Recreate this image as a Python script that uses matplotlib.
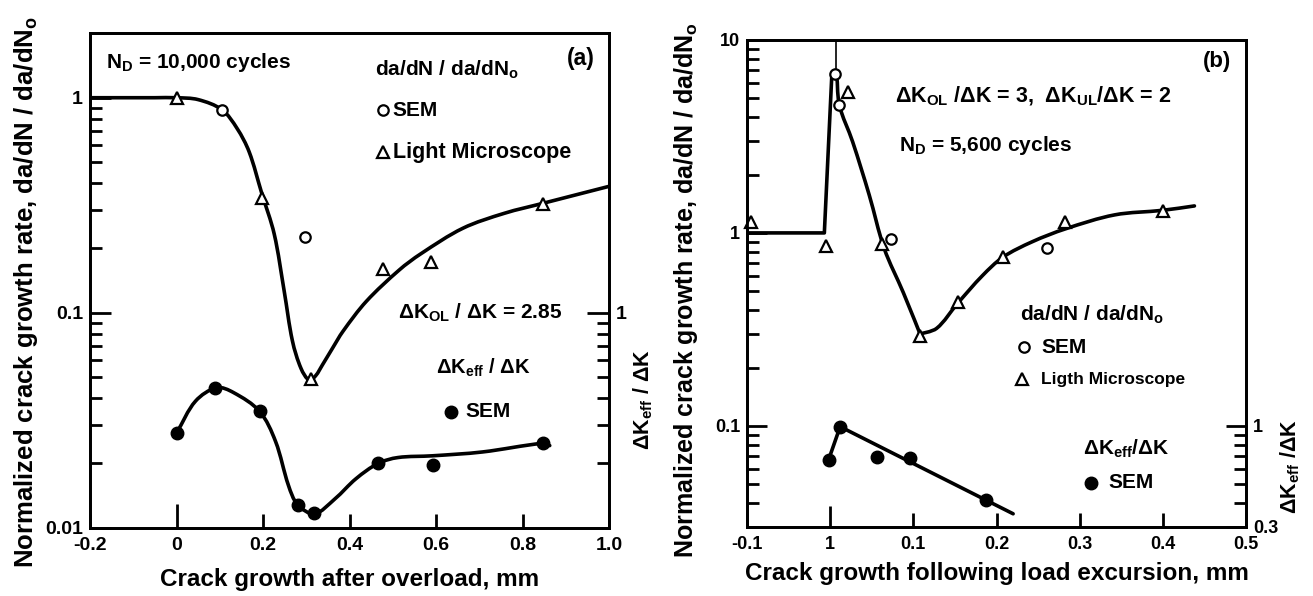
import numpy as np
import matplotlib
matplotlib.use("Agg")
import matplotlib.pyplot as plt
from matplotlib.ticker import FixedLocator, FixedFormatter, NullFormatter
from matplotlib.path import Path
from matplotlib.patches import PathPatch

plt.rcParams['font.family'] = ['Liberation Sans', 'DejaVu Sans']
plt.rcParams['font.weight'] = 'bold'
plt.rcParams['axes.labelweight'] = 'bold'
plt.rcParams['mathtext.fontset'] = 'custom'
plt.rcParams['mathtext.rm'] = 'Liberation Sans:bold'
plt.rcParams['mathtext.it'] = 'Liberation Sans:bold'
plt.rcParams['mathtext.bf'] = 'Liberation Sans:bold'
plt.rcParams['mathtext.default'] = 'rm'

# ---------------- panel (a): single overload, N_D = 10,000 cycles ----------------
a_lm_x = [0.0, 0.197, 0.31, 0.478, 0.589, 0.848]
a_lm_y = [1.0, 0.34, 0.049, 0.16, 0.172, 0.32]
a_sem_x = [0.105, 0.297]
a_sem_y = [0.88, 0.225]
a_fit_x = [-0.2, -0.05, 0.0, 0.05, 0.105, 0.14, 0.168, 0.197, 0.226, 0.249,
           0.268, 0.288, 0.307, 0.322, 0.337, 0.36, 0.385, 0.439,
           0.515, 0.565, 0.662, 0.758, 0.848, 1.0]
a_fit_y = [1.0, 1.0, 1.0, 0.98, 0.88, 0.72, 0.56, 0.36, 0.232, 0.126,
           0.074, 0.055, 0.0485, 0.051, 0.057, 0.068, 0.082, 0.113,
           0.158, 0.188, 0.247, 0.29, 0.323, 0.387]
a_keff_x = [0.0, 0.09, 0.192, 0.28, 0.319, 0.466, 0.592, 0.847]
a_keff_y = [0.275, 0.448, 0.348, 0.128, 0.117, 0.199, 0.195, 0.247]
a_keff_fit_x = [0.0, 0.044, 0.093, 0.132, 0.192, 0.229, 0.259, 0.28, 0.319,
                0.366, 0.415, 0.466, 0.512, 0.592, 0.707, 0.847, 0.863]
a_keff_fit_y = [0.275, 0.388, 0.448, 0.425, 0.348, 0.252, 0.157, 0.128, 0.116,
                0.136, 0.169, 0.199, 0.212, 0.216, 0.225, 0.247, 0.241]
a_xticks = [-0.2, 0.0, 0.2, 0.4, 0.6, 0.8, 1.0]
a_xticklabels = ['-0.2', '0', '0.2', '0.4', '0.6', '0.8', '1.0']

# ---------------- panel (b): overload + underload, N_D = 5,600 cycles ----------------
b_lm_x = [-0.095, -0.005, 0.022, 0.062, 0.108, 0.154, 0.208, 0.282, 0.400]
b_lm_y = [1.14, 0.86, 5.4, 0.88, 0.293, 0.437, 0.75, 1.14, 1.30]
b_sem_x = [0.006, 0.011, 0.073, 0.261]
b_sem_y = [6.7, 4.6, 0.93, 0.84]
b_fit_x = [-0.1, -0.007, 0.002, 0.007, 0.011, 0.027, 0.047,
           0.065, 0.088, 0.108, 0.128, 0.153, 0.183, 0.208, 0.243, 0.283,
           0.342, 0.40, 0.438]
b_fit_y = [1.0, 1.0, 6.6, 6.9, 4.6, 2.97, 1.57,
           0.83, 0.49, 0.30, 0.32, 0.43, 0.60, 0.75, 0.90, 1.05,
           1.24, 1.31, 1.38]
b_fit_corners = (1, 2, 9)
b_spike_x = [0.0075, 0.0075]
b_spike_y = [6.9, 10.0]
b_keff_x = [-0.002, 0.012, 0.056, 0.096, 0.187]
b_keff_y = [0.665, 0.99, 0.69, 0.684, 0.412]
b_keff_fit_x = [-0.002, 0.012, 0.22]
b_keff_fit_y = [0.665, 0.99, 0.35]
b_xticks = [-0.1, 0.0, 0.1, 0.2, 0.3, 0.4, 0.5]
b_xticklabels = ['-0.1', '1', '0.1', '0.2', '0.3', '0.4', '0.5']

W, H = 1313, 596
fig = plt.figure(figsize=(W / 100, H / 100), dpi=100)


def box(l, r, t, b):
    return [l / W, 1 - b / H, (r - l) / W, (b - t) / H]


LW = 2.6
SPW = 2.0
open_kw = dict(ls='none', mfc='white', mec='black', mew=1.6, zorder=5, clip_on=False)
fill_kw = dict(ls='none', mfc='black', mec='black', zorder=5, clip_on=False)


def smooth_curve(ax, xs, ys, corners=(), lw=LW):
    """Draw a smooth cubic curve through the given knots on a log-y axes."""
    x0, x1 = ax.get_xlim()
    l0, l1 = np.log10(ax.get_ylim())
    u = (np.asarray(xs, float) - x0) / (x1 - x0)
    w = (np.log10(np.asarray(ys, float)) - l0) / (l1 - l0)
    P = np.column_stack([u, w])
    n = len(P)
    d = np.linalg.norm(np.diff(P, axis=0), axis=1)
    T = np.zeros_like(P)
    for i in range(n):
        if i in corners:
            continue
        if i == 0:
            T[i] = (P[1] - P[0]) / d[0]
        elif i == n - 1:
            T[i] = (P[-1] - P[-2]) / d[-1]
        else:
            T[i] = (P[i + 1] - P[i - 1]) / (d[i - 1] + d[i])
    verts = [P[0]]
    codes = [Path.MOVETO]
    for i in range(n - 1):
        verts += [P[i] + T[i] * d[i] / 3, P[i + 1] - T[i + 1] * d[i] / 3, P[i + 1]]
        codes += [Path.CURVE4] * 3
    V = np.array(verts)
    V[:, 0] = x0 + V[:, 0] * (x1 - x0)
    V[:, 1] = 10 ** (l0 + V[:, 1] * (l1 - l0))
    patch = PathPatch(Path(V, codes), fill=False, lw=lw, ec='black',
                      joinstyle='round', capstyle='round', zorder=3)
    ax.add_patch(patch)


def style_axes(ax, tsize, maj, mn, zero_len):
    for s in ax.spines.values():
        s.set_linewidth(SPW)
    ax.tick_params(which='both', direction='in', width=SPW, labelsize=tsize,
                   top=False, right=False)
    ax.tick_params(axis='y', which='major', length=maj, pad=5)
    ax.tick_params(axis='y', which='minor', length=mn)
    ax.tick_params(axis='x', which='major', length=mn + 1.5, pad=7)
    ax.tick_params(axis='x', which='minor', length=0)
    for t, loc in zip(ax.xaxis.get_major_ticks(), ax.get_xticks()):
        if abs(loc) < 1e-9:
            t.tick1line.set_markersize(zero_len)


def style_twin(ax, tsize, maj, mn, labels, minors):
    for s in ax.spines.values():
        s.set_linewidth(SPW)
    ax.set_yscale('log')
    ax.yaxis.set_major_locator(FixedLocator(labels))
    ax.yaxis.set_major_formatter(FixedFormatter([('%g' % v) for v in labels]))
    ax.yaxis.set_minor_locator(FixedLocator(minors))
    ax.yaxis.set_minor_formatter(NullFormatter())
    ax.tick_params(which='both', direction='in', width=SPW, labelsize=tsize)
    ax.tick_params(which='major', length=maj, pad=5)
    ax.tick_params(which='minor', length=mn)


YLABEL = 'Normalized crack growth rate, da/dN / da/dN$_{\\mathrm{o}}$'
KEFF = '\u0394K$_{\\mathrm{eff}}$'

# ======================= panel (a) =======================
axA = fig.add_axes(box(90, 609, 33, 527.7))
axA.set_yscale('log')
axA.set_xlim(-0.2, 1.0)
axA.set_ylim(0.01, 2.0)
axA.set_xticks(a_xticks)
axA.set_xticklabels(a_xticklabels)
axA.yaxis.set_major_locator(FixedLocator([0.01, 0.1, 1]))
axA.yaxis.set_major_formatter(FixedFormatter(['0.01', '0.1', '1']))
axA.yaxis.set_minor_locator(FixedLocator([k * 0.01 for k in range(2, 10)] +
                                         [k * 0.1 for k in range(2, 10)]))
axA.yaxis.set_minor_formatter(NullFormatter())
style_axes(axA, 14, 15, 8.5, 17)

smooth_curve(axA, a_fit_x, a_fit_y)
axA.plot(a_lm_x, a_lm_y, marker='^', ms=8.5, **open_kw)
axA.plot(a_sem_x, a_sem_y, marker='o', ms=7.5, **open_kw)

axA2 = axA.twinx()
axA2.set_ylim(0.1, 20)
style_twin(axA2, 14, 15.5, 8.5, [1], [k * 0.1 for k in range(2, 10)])
smooth_curve(axA2, a_keff_fit_x, a_keff_fit_y)
axA2.plot(a_keff_x, a_keff_y, marker='o', ms=9, **fill_kw)

axA.set_xlabel('Crack growth after overload, mm', fontsize=17.5, labelpad=10)
fig.text(26 / W, 1 - 292 / H, YLABEL, rotation=90, ha='center', va='center',
         fontsize=18.5, fontweight='bold')
fig.text(643 / W, 1 - 400 / H, KEFF + ' / \u0394K', rotation=90,
         ha='center', va='center', fontsize=15.5)

ta = axA.transAxes
axA.text(0.031, 0.941, 'N$_{\\mathrm{D}}$ = 10,000 cycles', transform=ta, fontsize=15, va='center')
axA.text(0.549, 0.925, 'da/dN / da/dN$_{\\mathrm{o}}$', transform=ta, fontsize=15, va='center')
axA.text(0.946, 0.949, '(a)', transform=ta, fontsize=16.5, va='center', ha='center')
axA.plot([0.565], [0.844], marker='o', ms=7.5, transform=ta, **open_kw)
axA.text(0.582, 0.844, 'SEM', transform=ta, fontsize=15, va='center')
axA.plot([0.565], [0.759], marker='^', ms=8.5, transform=ta, **open_kw)
axA.text(0.584, 0.759, 'Light Microscope', transform=ta, fontsize=15.5, va='center')
axA.text(0.593, 0.434, '\u0394K$_{\\mathrm{OL}}$ / \u0394K = 2.85', transform=ta, fontsize=15, va='center')
axA.text(0.667, 0.323, KEFF + ' / \u0394K', transform=ta, fontsize=14.5, va='center')
axA.plot([0.695], [0.234], marker='o', ms=9, transform=ta, **fill_kw)
axA.text(0.723, 0.234, 'SEM', transform=ta, fontsize=15, va='center')

# ======================= panel (b) =======================
axB = fig.add_axes(box(747, 1246, 40, 526.7))
axB.set_yscale('log')
axB.set_xlim(-0.1, 0.5)
axB.set_ylim(0.03, 10.0)
axB.set_xticks(b_xticks)
axB.set_xticklabels(b_xticklabels)
axB.yaxis.set_major_locator(FixedLocator([0.1, 1, 10]))
axB.yaxis.set_major_formatter(FixedFormatter(['0.1', '1', '10']))
axB.yaxis.set_minor_locator(FixedLocator([k * 0.01 for k in range(3, 10)] +
                                         [k * 0.1 for k in range(2, 10)] +
                                         [k * 1.0 for k in range(2, 10)]))
axB.yaxis.set_minor_formatter(NullFormatter())
style_axes(axB, 13, 14.5, 8.5, 15)

smooth_curve(axB, b_fit_x, b_fit_y, corners=b_fit_corners)
axB.plot(b_spike_x, b_spike_y, color='black', lw=1.2, zorder=3)
axB.plot(b_lm_x, b_lm_y, marker='^', ms=8.5, **open_kw)
axB.plot(b_sem_x, b_sem_y, marker='o', ms=7.5, **open_kw)

axB2 = axB.twinx()
axB2.set_ylim(0.3, 100)
style_twin(axB2, 13, 14.5, 8.5, [0.3, 1], [k * 0.1 for k in range(4, 10)])
axB2.plot(b_keff_fit_x, b_keff_fit_y, color='black', lw=LW, solid_capstyle='round',
          solid_joinstyle='round', zorder=3)
axB2.plot(b_keff_x, b_keff_y, marker='o', ms=9, **fill_kw)

axB.set_xlabel('Crack growth following load excursion, mm', fontsize=17.5, labelpad=6)
fig.text(686 / W, 1 - 290 / H, YLABEL, rotation=90, ha='center', va='center',
         fontsize=18, fontweight='bold')
fig.text(1290 / W, 1 - 467 / H, KEFF + ' /\u0394K', rotation=90,
         ha='center', va='center', fontsize=15.5)

tb = axB.transAxes
axB.text(0.942, 0.955, '(b)', transform=tb, fontsize=16, va='center', ha='center')
axB.text(0.297, 0.885, '\u0394K$_{\\mathrm{OL}}$ /\u0394K = 3,  \u0394K$_{\\mathrm{UL}}$/\u0394K = 2',
         transform=tb, fontsize=15.5, va='center')
axB.text(0.305, 0.784, 'N$_{\\mathrm{D}}$ = 5,600 cycles', transform=tb, fontsize=15, va='center')
axB.text(0.547, 0.435, 'da/dN / da/dN$_{\\mathrm{o}}$', transform=tb, fontsize=15, va='center')
axB.plot([0.556], [0.369], marker='o', ms=7.5, transform=tb, **open_kw)
axB.text(0.59, 0.369, 'SEM', transform=tb, fontsize=15, va='center')
axB.plot([0.552], [0.303], marker='^', ms=8.5, transform=tb, **open_kw)
axB.text(0.59, 0.303, 'Ligth Microscope', transform=tb, fontsize=12.5, va='center')
axB.text(0.673, 0.16, KEFF + '/\u0394K', transform=tb, fontsize=15, va='center')
axB.plot([0.69], [0.09], marker='o', ms=9, transform=tb, **fill_kw)
axB.text(0.724, 0.09, 'SEM', transform=tb, fontsize=15, va='center')

fig.savefig('out.png', dpi=100)
